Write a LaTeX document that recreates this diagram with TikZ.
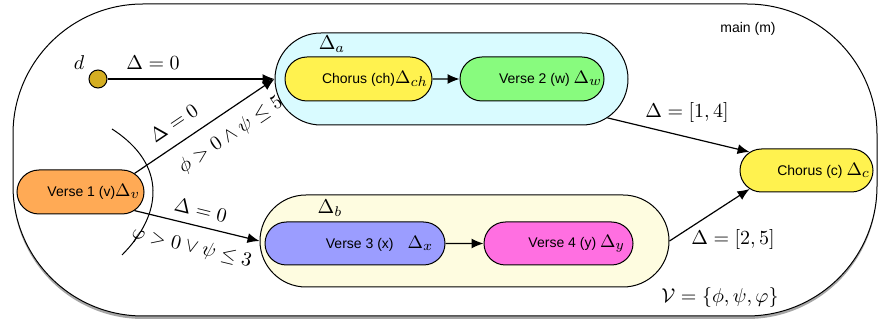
\documentclass[tikz,border=0pt]{standalone}
\usepackage{fontspec}
\setsansfont{Liberation Sans}
\usetikzlibrary{shapes.misc,shadows,arrows.meta}
\definecolor{cyanbg}{HTML}{D9FBFF}
\definecolor{yellowbg}{HTML}{FEFCE0}
\definecolor{chorusy}{HTML}{FFF24F}
\definecolor{versegreen}{HTML}{88FB7E}
\definecolor{verseblue}{HTML}{9B9DFF}
\definecolor{versepink}{HTML}{FF6FE1}
\definecolor{verseorange}{HTML}{FFAA55}
\definecolor{dgold}{HTML}{D4AE22}
\newcommand{\stx}[2]{{\sffamily\fontsize{7}{8}\selectfont #1}{\fontsize{9.5}{11}\selectfont$#2$}}
\begin{document}
\begin{tikzpicture}[x=0.5pt,y=-0.5pt,
  pill/.style={rounded rectangle, draw, line width=0.5pt, inner sep=0pt},
  stxt/.style={font=\sffamily\fontsize{7}{8}\selectfont},
  conn/.style={line width=0.6pt, -{Latex[length=6pt,width=5pt]}},
  lbl/.style={inner sep=0pt}]
\useasboundingbox (0,0) rectangle (884,320);
% main
\node[draw, line width=0.5pt, rounded corners=65pt, minimum width=432pt, minimum height=156pt, fill=white,
  drop shadow={shadow xshift=0pt, shadow yshift=-1.5pt, opacity=0.7}] (m) at (445,160) {};
\node[stxt, lbl] (mlabel) at (748,29) {main (m)};
% groups
\node[pill, fill=cyanbg, minimum width=176.5pt, minimum height=46pt] (A) at (451.5,79) {};
\node[lbl] (Alabel) at (332,44) {$\Delta_a$};
\node[pill, fill=yellowbg, minimum width=204.5pt, minimum height=46pt] (B) at (464.5,241) {};
\node[lbl] (Blabel) at (330,208) {$\Delta_b$};
% states
\node[pill, fill=chorusy, minimum width=73.5pt, minimum height=22pt,
  label={[anchor=east, inner sep=0pt, xshift=-2pt]east:{\stx{Chorus (ch)}{\Delta_{ch}}}}] (ch) at (358.5,79) {};
\node[pill, fill=versegreen, minimum width=72pt, minimum height=22pt,
  label={[anchor=east, inner sep=0pt, xshift=-1pt]east:{\stx{Verse 2 (w) }{\Delta_{w}}}}] (w) at (532,79) {};
\node[pill, fill=verseblue, minimum width=90pt, minimum height=21.5pt,
  label={[anchor=east, inner sep=0pt, xshift=-6pt]east:{\stx{Verse 3 (x)\hspace{7pt}}{\Delta_{x}}}}] (x) at (355,243.5) {};
\node[pill, fill=versepink, minimum width=74.5pt, minimum height=21.5pt,
  label={[anchor=east, inner sep=0pt, xshift=-4pt]east:{\stx{Verse 4 (y) }{\Delta_{y}}}}] (y) at (558.5,243.5) {};
\node[pill, fill=chorusy, minimum width=66.5pt, minimum height=21.5pt,
  label={[anchor=east, inner sep=0pt, xshift=-1.5pt]east:{\stx{Chorus (c) }{\Delta_{c}}}}] (c) at (806.5,170.5) {};
\node[pill, fill=verseorange, minimum width=63.5pt, minimum height=22pt,
  label={[anchor=east, inner sep=0pt, xshift=-2pt]east:{\stx{Verse 1 (v)}{\Delta_{v}}}}] (v) at (80.5,192) {};
\node[circle, draw, line width=0.5pt, fill=dgold, minimum size=9pt, inner sep=0pt] (d) at (98,79) {};
\node[lbl] (dlabel) at (79,63) {$d$};
% connectors
\draw[conn] (d) -- (A.west);
\node[lbl] (l0) at (153,63) {$\Delta=0$};
\draw[conn] (ch) -- (w);
\draw[conn] (x) -- (y);
\draw[conn] (v.19) -- (A.west)
  node[pos=0.36, sloped, above=3pt] (l1) {$\Delta=0$}
  node[pos=0.6, sloped, below=3pt] (l2) {$\phi>0\wedge\psi\leq5$};
\draw[conn] (v.-19) -- (B.west)
  node[pos=0.5, sloped, above=1pt] (l3) {$\Delta=0$}
  node[pos=0.5, sloped, below=3pt] (l4) {$\varphi>0\vee\psi\leq3$};
\draw[conn] (A.-14.4) -- (c.162);
\draw[conn] (B.east) -- (c.198);
\node[lbl] (l5) at (687,113) {$\Delta=[1,4]$};
\node[lbl] (l6) at (733,240) {$\Delta=[2,5]$};
\node[lbl] (l7) at (720,298) {$\mathcal{V}=\{\phi,\psi,\varphi\}$};
% bracket curve
\draw[line width=0.5pt] (112,129) .. controls (168,165) and (162,215) .. (122,255);
\end{tikzpicture}
\end{document}
